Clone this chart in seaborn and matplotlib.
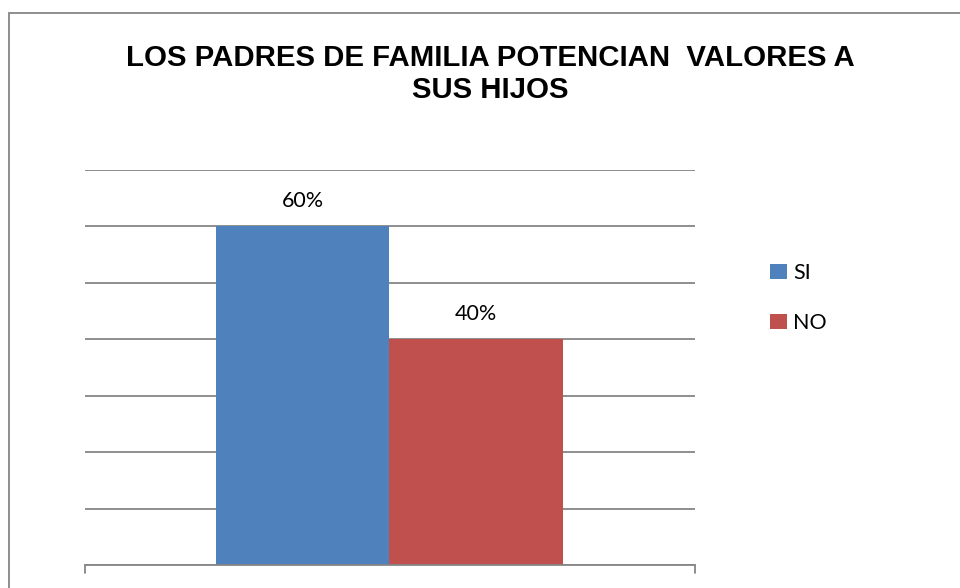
import matplotlib
matplotlib.use('Agg')
import matplotlib.pyplot as plt
import seaborn as sns
import pandas as pd
from matplotlib.patches import Rectangle, Patch

# datos
respuestas = ['SI', 'NO']
porcentajes = [0.60, 0.40]
etiquetas = ['60%', '40%']
colores = ['#4F81BD', '#C0504D']
titulo = 'LOS PADRES DE FAMILIA POTENCIAN  VALORES A\nSUS HIJOS'

sns.set_style('white')
plt.rcParams['font.family'] = ['Lato', 'DejaVu Sans']

df = pd.DataFrame({'respuesta': respuestas, 'valor': porcentajes})

fig = plt.figure(figsize=(9.6, 5.88), dpi=100)
ax = fig.add_axes([85 / 960, 1 - 565 / 588, 610 / 960, (565 - 170) / 588])

sns.barplot(data=df, x='respuesta', y='valor', hue='respuesta',
            palette=colores, width=1.0, dodge=False, legend=False, ax=ax,
            saturation=1, edgecolor='none', linewidth=0)

ax.set_ylim(0, 0.7)
ax.set_xlim(-1.255, 2.261)
ax.set_yticks([i / 10 for i in range(8)])
ax.yaxis.grid(True, color='#868686', lw=1.3)
ax.set_axisbelow(True)
ax.set_yticklabels([])
ax.set_xticks([])
ax.set_xlabel('')
ax.set_ylabel('')
ax.tick_params(left=False)
for s in ['left', 'right', 'top']:
    ax.spines[s].set_visible(False)
ax.spines['bottom'].set_color('#868686')
ax.spines['bottom'].set_linewidth(1.3)

# marcas en los extremos del eje
for xv in [-1.255, 2.261]:
    ax.plot([xv, xv], [0, -0.014], color='#868686', lw=1.3, clip_on=False)

# etiquetas de datos
for i, (v, t) in enumerate(zip(porcentajes, etiquetas)):
    ax.text(i, v + 0.034, t, ha='center', va='baseline', fontsize=15.5,
            color='black')

fig.text(490 / 960, 1 - 74 / 588, titulo, ha='center', va='center',
         fontsize=21.2, fontweight='bold', family='Liberation Sans',
         color='black', linespacing=1.2)

handles = [Patch(facecolor=c, edgecolor='none') for c in colores]
fig.legend(handles, respuestas, loc='center left',
           bbox_to_anchor=(751 / 960, 1 - 298 / 588), frameon=False,
           fontsize=15.5, handlelength=0.75, handleheight=0.75,
           handletextpad=0.3, labelspacing=1.4, labelcolor='black')

# borde del área del gráfico
fig.patches.append(Rectangle((8.5 / 960, -0.05), 1.1, 1 - 12.5 / 588 + 0.05,
                             transform=fig.transFigure, fill=False,
                             edgecolor='#868686', lw=1.3))

fig.savefig('out.png', dpi=100)
